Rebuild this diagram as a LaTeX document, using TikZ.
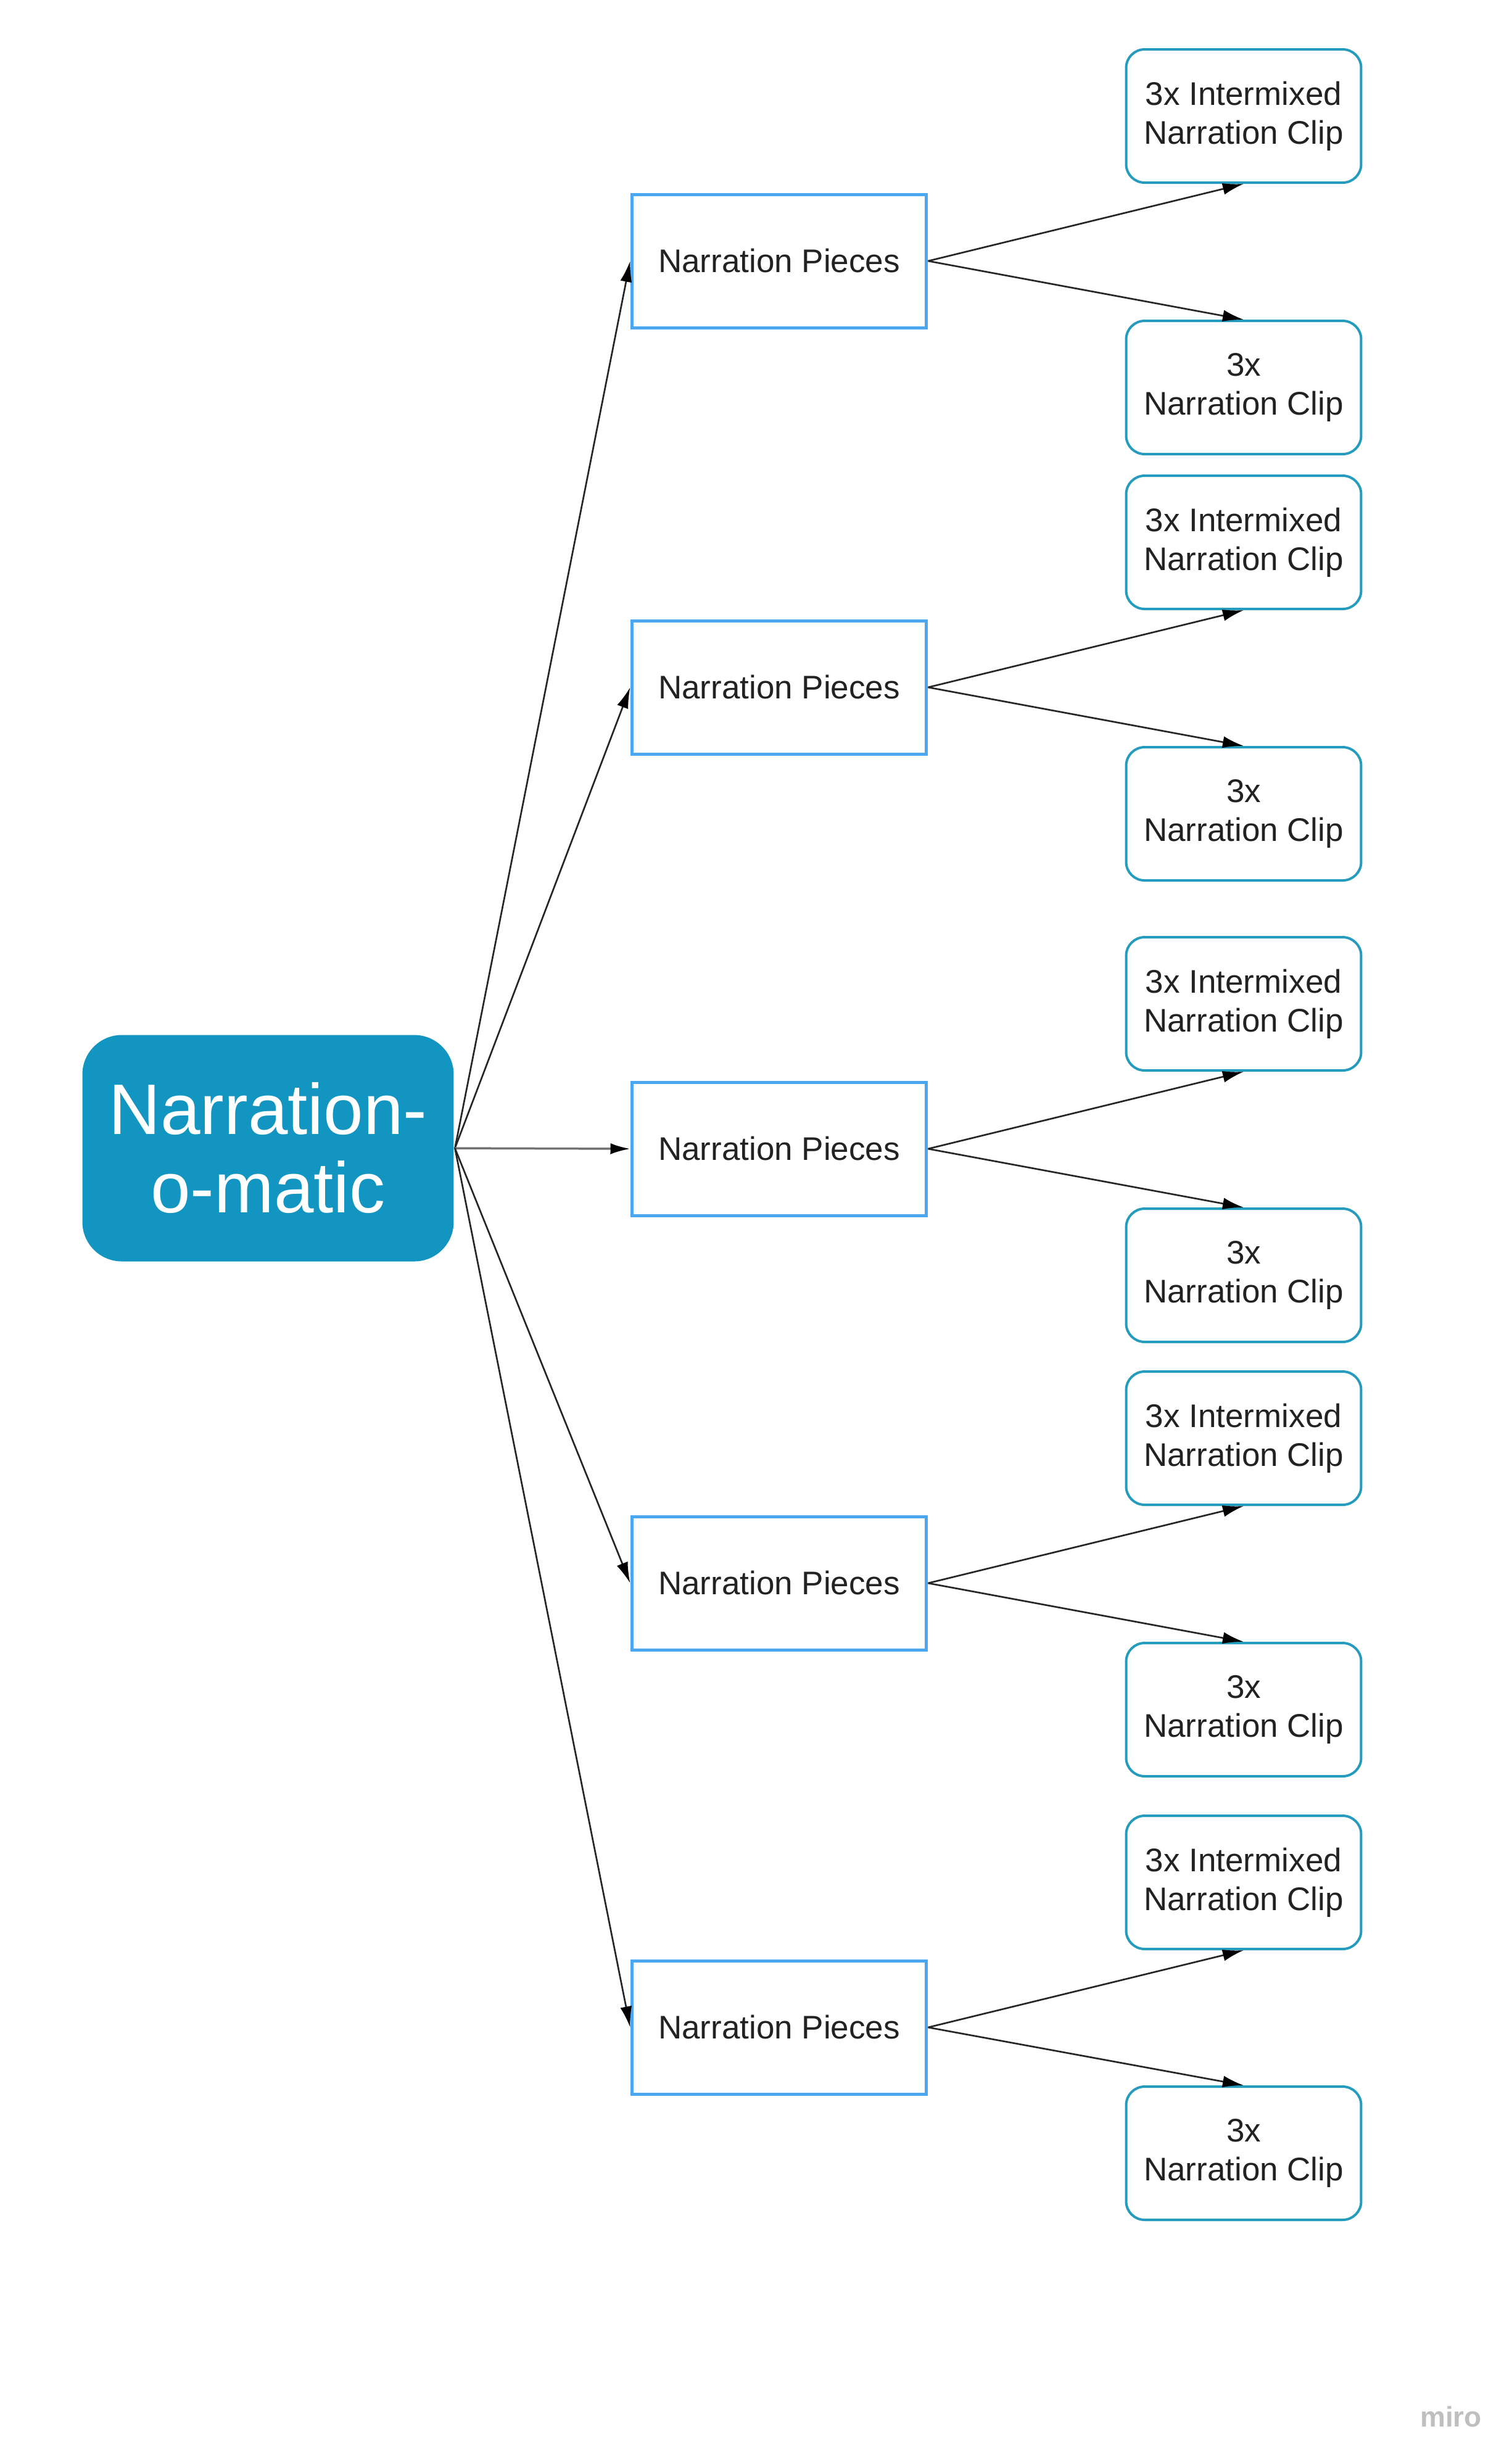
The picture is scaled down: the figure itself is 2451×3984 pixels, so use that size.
\documentclass[tikz,border=0pt]{standalone}
\usepackage{fontspec}
\setmainfont{Liberation Sans}
\usetikzlibrary{arrows.meta}
\definecolor{mainblue}{RGB}{18,150,193}
\definecolor{pieceblue}{RGB}{77,166,240}
\definecolor{clipblue}{RGB}{37,155,190}
\definecolor{textdark}{RGB}{34,34,34}
\tikzset{
  mainnode/.style={rectangle, rounded corners=6.4pt, fill=mainblue, text=white,
    minimum width=60.2pt, minimum height=36.7pt, inner sep=0pt, align=center,
    font=\fontsize{11.6}{12.7}\selectfont},
  piecebox/.style={rectangle, draw=pieceblue, line width=0.5pt, fill=white,
    minimum width=47.8pt, minimum height=21.6pt, inner sep=0pt, text=textdark,
    font=\fontsize{5.3}{6.3}\selectfont},
  clipbox/.style={rectangle, rounded corners=3pt, draw=clipblue, line width=0.4pt, fill=white,
    minimum width=38.1pt, minimum height=21.6pt, inner sep=0pt, align=center, text=textdark,
    font=\fontsize{5.3}{6.3}\selectfont},
  arr/.style={line width=0.27pt, draw=black!85, -{Latex[length=3.4pt,width=1.9pt,color=black]}},
  arrmid/.style={line width=0.35pt, draw=black!55, -{Latex[length=3.2pt,width=1.8pt,color=black]}},
  watermark/.style={text=black!25, font=\fontsize{4.6}{5}\selectfont\bfseries, inner sep=0pt}
}
\begin{document}
\begin{tikzpicture}[x=0.1pt,y=-0.1pt]
\useasboundingbox (0,0) rectangle (2451,3984);

\node[mainnode] (main) at (434.5,1861) {Narration-\\o-matic};

\node[piecebox] (p1) at (1263,423) {Narration Pieces};
\node[piecebox] (p2) at (1263,1114) {Narration Pieces};
\node[piecebox] (p3) at (1263,1862) {Narration Pieces};
\node[piecebox] (p4) at (1263,2566) {Narration Pieces};
\node[piecebox] (p5) at (1263,3286) {Narration Pieces};

\node[clipbox] (i1) at (2016,188) {3x Intermixed\\Narration Clip};
\node[clipbox] (c1) at (2016,628) {3x\\Narration Clip};
\node[clipbox] (i2) at (2016,879) {3x Intermixed\\Narration Clip};
\node[clipbox] (c2) at (2016,1319) {3x\\Narration Clip};
\node[clipbox] (i3) at (2016,1627) {3x Intermixed\\Narration Clip};
\node[clipbox] (c3) at (2016,2067) {3x\\Narration Clip};
\node[clipbox] (i4) at (2016,2331) {3x Intermixed\\Narration Clip};
\node[clipbox] (c4) at (2016,2771) {3x\\Narration Clip};
\node[clipbox] (i5) at (2016,3051) {3x Intermixed\\Narration Clip};
\node[clipbox] (c5) at (2016,3490) {3x\\Narration Clip};

\draw[arr] (main.east) -- (p1.west);
\draw[arr] (main.east) -- (p2.west);
\draw[arrmid] (main.east) -- (p3.west);
\draw[arr] (main.east) -- (p4.west);
\draw[arr] (main.east) -- (p5.west);

\foreach \k in {1,...,5} {
  \draw[arr] (p\k.east) -- (i\k.south);
  \draw[arr] (p\k.east) -- (c\k.north);
}

\node[watermark] (miro) at (2352,3917) {miro};
\end{tikzpicture}
\end{document}
